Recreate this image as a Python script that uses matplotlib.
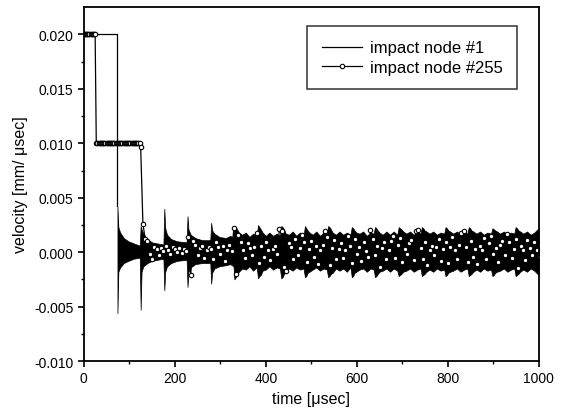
import matplotlib.pyplot as plt
import numpy as np

plt.rcParams['font.family'] = ['Liberation Sans', 'DejaVu Sans']

# ---------------------------------------------
#  impact node #1 : initial plateau, then band
# ---------------------------------------------
n1_step_t = [0, 74, 74]
n1_step_v = [0.020, 0.020, 0.0042]

# envelope of the dense oscillation (times in usec, values in 1e-3 mm/usec)
n1_t = [74, 76, 80, 88, 98, 110, 123,
        125, 127, 131, 140, 150, 162, 175,
        177, 179, 183, 192, 205, 226,
        228, 230, 235, 245, 260, 278,
        280, 282, 287, 298, 312, 322, 329,
        331, 334, 337, 341, 348, 356, 364, 372, 380,
        383, 386, 389, 393, 400, 408, 416, 424, 431,
        434, 437, 440, 444, 451, 459, 467, 475, 483,
        486, 489, 492, 496, 503, 511, 519, 527, 534,
        537, 540, 543, 547, 554, 562, 570, 578, 586,
        589, 592, 595, 599, 606, 614, 622, 630, 637,
        640, 643, 646, 650, 657, 665, 673, 681, 689,
        692, 695, 698, 702, 709, 717, 725, 733, 740,
        743, 746, 749, 753, 760, 768, 776, 784, 792,
        795, 798, 801, 805, 812, 820, 828, 836, 843,
        846, 849, 852, 856, 863, 871, 879, 887, 895,
        898, 901, 904, 908, 915, 923, 931, 939, 946,
        949, 952, 955, 959, 966, 974, 982, 990, 997, 1000]
n1_hi = [4.2, 2.3, 1.8, 1.3, 1.0, 0.8, 0.6,
         2.4, 2.1, 1.7, 1.2, 0.9, 0.8, 0.7,
         4.0, 2.2, 1.6, 1.2, 1.0, 0.9,
         3.3, 2.1, 1.6, 1.3, 1.1, 1.1,
         2.7, 2.0, 1.7, 1.4, 1.3, 1.5, 1.3,
         2.4, 2.3, 2.1, 1.8, 1.6, 1.8, 1.4, 1.7, 1.5,
         2.5, 2.3, 2.1, 1.8, 1.5, 1.8, 1.5, 1.7, 1.5,
         2.4, 2.3, 2.1, 1.7, 1.6, 1.9, 1.5, 1.8, 1.5,
         2.4, 2.2, 2.0, 1.8, 1.6, 1.9, 1.5, 1.8, 1.6,
         2.4, 2.3, 2.1, 1.8, 1.6, 1.9, 1.6, 1.8, 1.6,
         2.3, 2.2, 2.0, 1.8, 1.7, 1.9, 1.5, 1.8, 1.7,
         2.3, 2.2, 2.0, 1.8, 1.6, 1.9, 1.6, 1.9, 1.6,
         2.3, 2.2, 2.1, 1.9, 1.7, 1.9, 1.6, 1.9, 1.7,
         2.3, 2.2, 2.0, 1.9, 1.7, 1.9, 1.6, 1.8, 1.7,
         2.3, 2.2, 2.0, 1.9, 1.7, 1.9, 1.6, 1.9, 1.7,
         2.3, 2.2, 2.0, 1.9, 1.7, 1.9, 1.6, 1.8, 1.7,
         2.2, 2.1, 2.0, 1.9, 1.7, 1.9, 1.6, 1.8, 1.7,
         2.3, 2.2, 2.0, 1.9, 1.7, 1.9, 1.6, 1.8, 2.1, 2.2]
n1_lo = [-5.6, -1.8, -1.4, -1.0, -0.8, -0.6, -0.5,
         -5.3, -1.8, -1.3, -1.0, -0.8, -0.7, -0.6,
         -3.5, -1.8, -1.3, -1.0, -0.8, -0.7,
         -3.2, -1.8, -1.4, -1.1, -1.0, -1.0,
         -2.9, -1.9, -1.5, -1.3, -1.2, -1.1, -1.3,
         -2.5, -2.3, -2.0, -1.8, -1.5, -1.6, -1.3, -1.7, -1.4,
         -2.4, -2.2, -2.1, -1.7, -1.6, -1.3, -1.6, -1.4, -1.5,
         -2.4, -2.3, -2.0, -1.8, -1.5, -1.7, -1.4, -1.6, -1.5,
         -2.3, -2.2, -1.9, -1.8, -1.6, -1.4, -1.7, -1.5, -1.6,
         -2.3, -2.2, -2.0, -1.9, -1.5, -1.7, -1.5, -1.8, -1.4,
         -2.3, -2.2, -1.9, -1.8, -1.6, -1.5, -1.8, -1.5, -1.6,
         -2.3, -2.2, -2.0, -1.8, -1.7, -1.5, -1.8, -1.5, -1.7,
         -2.2, -2.1, -2.0, -1.8, -1.7, -1.5, -1.8, -1.6, -1.5,
         -2.2, -2.1, -2.0, -1.8, -1.6, -1.8, -1.5, -1.7, -1.6,
         -2.2, -2.1, -1.9, -1.8, -1.7, -1.5, -1.8, -1.6, -1.5,
         -2.2, -2.1, -2.0, -1.8, -1.6, -1.8, -1.5, -1.7, -1.6,
         -2.2, -2.1, -1.9, -1.8, -1.7, -1.5, -1.8, -1.6, -1.5,
         -2.2, -2.1, -2.0, -1.8, -1.6, -1.8, -1.5, -1.7, -2.0, -2.1]

# ---------------------------------------------
#  impact node #255 : 2.5 usec steps up to 125, then 5 usec steps
# ---------------------------------------------
n255_t = np.concatenate([np.arange(0, 126, 2.5), np.arange(130, 1001, 5)])
n255_v = ([20.0] * 11 + [10.0] * 39 + [9.7] +
          [2.6, 1.2, 1.0, -0.2, -0.6, 0.5, 0.3, -0.3, 0.4, 0.1,
           0.6, 0.2, -0.2, 0.5, 0.3, 0.0, 0.4, -0.1, 0.3, 0.1,
           1.4, -2.1, 1.0, 0.7, -0.3, 0.4, 0.6, -0.5, 0.2, 0.5,
           0.3, -0.6, 0.9, 0.5, -0.2, 0.6, -0.8, 0.2, 0.7, 0.1,
           2.2, -2.0, 1.6, 0.9, 0.2, -0.5, 0.8, 0.4, -0.3, 0.5,
           1.8, -1.0, 0.6, -0.4, 0.9, 0.2, -0.7, 0.3, 0.6, -0.2,
           2.1, 1.9, -1.4, -1.7, 0.8, 0.5, -0.6, 1.2, -0.3, 0.4,
           1.6, 0.9, -0.9, 0.3, 1.0, -0.4, 0.6, -1.1, 0.2, 0.7,
           1.9, 1.4, -1.2, 0.4, 1.1, -0.6, 0.3, 0.8, -0.5, 0.2,
           1.5, 0.6, -1.0, 1.2, -0.2, 0.5, -0.8, 0.9, 0.1, -0.4,
           2.0, 1.2, -0.3, 0.6, -1.4, 0.4, 0.9, -0.6, 0.2, 1.0,
           1.5, -0.5, 0.7, 1.3, -0.9, 0.3, -0.2, 0.8, 1.1, -0.7,
           1.9, 2.0, 0.4, -0.6, 0.9, -1.2, 0.2, 0.6, -0.3, 0.5,
           1.2, -0.8, 0.3, 0.9, -1.0, 0.5, 1.4, 0.2, -0.6, 0.7,
           1.8, 1.9, 0.5, -0.9, 1.0, -0.4, 0.3, -1.1, 0.6, 0.2,
           1.3, -0.6, 0.8, 1.5, -0.2, 0.4, -0.9, 0.7, 1.0, -0.3,
           1.7, 0.9, -0.5, 0.3, 1.2, -1.5, 0.6, 0.2, -0.7, 1.1,
           0.4, -0.3, 0.9, 0.2, -0.4])

n1_t = np.array(n1_t)
n1_hi = np.array(n1_hi) * 1e-3
n1_lo = np.array(n1_lo) * 1e-3
n255_v = np.array(n255_v) * 1e-3

fig = plt.figure(figsize=(5.66, 4.10), dpi=100)
ax = fig.add_axes([0.148, 0.117, 0.804, 0.863])

ax.plot(n1_step_t, n1_step_v, color='black', lw=0.9, label='impact node #1')
ax.fill_between(n1_t, n1_lo, n1_hi, color='black', lw=0.5)
ax.plot(n255_t, n255_v, '-o', color='black', lw=0.9, ms=3.2, mew=0.8,
        mfc='white', mec='black', label='impact node #255')

ax.set_xlim(0, 1000)
ax.set_ylim(-0.010, 0.0225)
ax.set_xticks(np.arange(0, 1001, 200))
ax.set_xticks(np.arange(100, 1000, 200), minor=True)
ax.set_yticks([-0.010, -0.005, 0.0, 0.005, 0.010, 0.015, 0.020])
ax.set_yticks([-0.0075, -0.0025, 0.0025, 0.0075, 0.0125, 0.0175], minor=True)
ax.set_yticklabels(['-0.010', '-0.005', '0.000', '0.005', '0.010', '0.015', '0.020'])
ax.tick_params(which='major', direction='out', length=4, width=1.2, labelsize=10)
ax.tick_params(which='minor', direction='out', length=2.2, width=1)
for s in ax.spines.values():
    s.set_linewidth(1.3)

ax.set_xlabel('time [μsec]', fontsize=11.5, labelpad=4)
ax.set_ylabel('velocity [mm/ μsec]', fontsize=11.5, labelpad=4)

leg = ax.legend(loc='upper right', bbox_to_anchor=(0.952, 0.946), fontsize=12,
                frameon=True, fancybox=False, edgecolor='black',
                handlelength=2.4, handletextpad=0.5, borderpad=0.85,
                borderaxespad=0.0, labelspacing=0.25)
leg.get_frame().set_linewidth(1.1)

plt.savefig('out.png', dpi=100)
